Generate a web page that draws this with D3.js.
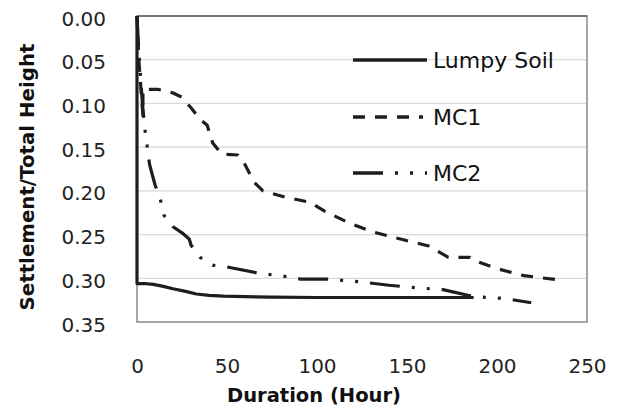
<!DOCTYPE html>
<html>
<head>
<meta charset="utf-8">
<script src="https://cdn.jsdelivr.net/npm/d3@7"></script>
<style>
  html, body { margin: 0; padding: 0; background: #fff; }
  svg { display: block; }
</style>
</head>
<body>
<svg id="chart" width="621" height="410"></svg>
<script>
// ---- data ----
const seriesNames = ["Lumpy Soil", "MC1", "MC2"];
const lumpyX = [0, 0, 4, 9, 14, 20, 27, 33, 40, 48, 60, 75, 100, 150, 187];
const lumpyY = [0, 0.306, 0.306, 0.307, 0.309, 0.312, 0.315, 0.318, 0.3195, 0.3205, 0.321, 0.3215, 0.322, 0.322, 0.322];
const mc1X = [0, 1, 3.3, 3.3, 12, 20, 25, 30, 35, 39, 42, 47, 56, 60, 65, 70, 82, 96, 104, 118, 131, 148, 162, 173, 185, 188, 200, 215, 235];
const mc1Y = [0, 0.05, 0.114, 0.084, 0.084, 0.088, 0.093, 0.105, 0.118, 0.125, 0.145, 0.158, 0.159, 0.17, 0.19, 0.2, 0.207, 0.213, 0.223, 0.237, 0.247, 0.256, 0.263, 0.276, 0.276, 0.28, 0.289, 0.297, 0.302];
const mc2X = [0, 1, 2, 3, 4.4, 5.6, 7, 10, 13, 15, 20, 25, 29, 30, 35, 42, 50, 67, 83, 91, 107, 124, 140, 156, 170, 187, 204, 219];
const mc2Y = [0, 0.04, 0.07, 0.10, 0.13, 0.148, 0.17, 0.193, 0.21, 0.228, 0.241, 0.248, 0.255, 0.262, 0.276, 0.285, 0.287, 0.294, 0.298, 0.301, 0.301, 0.304, 0.308, 0.311, 0.313, 0.321, 0.323, 0.328];
const xTicks = [0, 50, 100, 150, 200, 250];
const yTicks = [0, 0.05, 0.10, 0.15, 0.20, 0.25, 0.30, 0.35];
const xTitle = "Duration (Hour)";
const yTitle = "Settlement/Total Height";

// ---- layout ----
const svg = d3.select("#chart");
const L = 137, R = 587, T = 16, B = 322;
const x = d3.scaleLinear().domain([0, 250]).range([L, R]);
const y = d3.scaleLinear().domain([0, 0.35]).range([T, B]);
const font = "'DejaVu Sans', sans-serif";
const ink = "#1e1e1e";

// gridlines
svg.append("g").selectAll("line")
  .data(yTicks.filter(d => d > 0 && d < 0.35))
  .join("line")
  .attr("x1", L).attr("x2", R)
  .attr("y1", d => y(d)).attr("y2", d => y(d))
  .attr("stroke", "#d9d9d9").attr("stroke-width", 1.2);

// plot border
svg.append("rect")
  .attr("x", L).attr("y", T).attr("width", R - L).attr("height", B - T)
  .attr("fill", "none").attr("stroke", "#8a8a8a").attr("stroke-width", 1.5);
svg.append("line").attr("x1", L).attr("x2", R).attr("y1", T).attr("y2", T)
  .attr("stroke", "#666").attr("stroke-width", 1.5);

// axes
const yAxis = svg.append("g").attr("transform", `translate(${L},0)`)
  .call(d3.axisLeft(y).tickValues(yTicks).tickFormat(d3.format(".2f")).tickSize(0).tickPadding(31));
yAxis.select(".domain").remove();
yAxis.selectAll("text").attr("font-family", font).attr("font-size", 20).attr("fill", "#222").attr("dy", "0.45em");

const xAxis = svg.append("g").attr("transform", `translate(0,${B})`)
  .call(d3.axisBottom(x).tickValues(xTicks).tickFormat(d3.format("d")).tickSize(0).tickPadding(37));
xAxis.select(".domain").remove();
xAxis.selectAll("text").attr("font-family", font).attr("font-size", 20).attr("fill", "#222");

// titles
svg.append("text").attr("x", 314).attr("y", 402).attr("text-anchor", "middle")
  .attr("font-family", font).attr("font-weight", "bold").attr("font-size", 19.5).attr("fill", "#111")
  .text(xTitle);
svg.append("text").attr("transform", "translate(34,177) rotate(-90)").attr("text-anchor", "middle")
  .attr("font-family", font).attr("font-weight", "bold").attr("font-size", 19.8).attr("fill", "#111")
  .text(yTitle);

// lines
const styles = [
  { dash: null, w: 3.2 },
  { dash: "12,10", w: 3.2 },
  { dash: "30,12,3,12,3,12", w: 3.2 }
];
const series = [
  { name: seriesNames[0], pts: lumpyX.map((v, i) => [v, lumpyY[i]]) },
  { name: seriesNames[1], pts: mc1X.map((v, i) => [v, mc1Y[i]]) },
  { name: seriesNames[2], pts: mc2X.map((v, i) => [v, mc2Y[i]]) }
];
const line = d3.line().x(d => x(d[0])).y(d => y(d[1])).curve(d3.curveLinear);
series.forEach((s, i) => {
  svg.append("path").datum(s.pts)
    .attr("d", line)
    .attr("fill", "none").attr("stroke", ink).attr("stroke-width", styles[i].w)
    .attr("stroke-dasharray", styles[i].dash).attr("stroke-linejoin", "round");
});

// legend
const legY = [60, 117, 173];
series.forEach((s, i) => {
  svg.append("line").attr("x1", 353).attr("x2", i === 1 ? 423 : 427)
    .attr("y1", legY[i]).attr("y2", legY[i])
    .attr("stroke", ink).attr("stroke-width", 3.4).attr("stroke-dasharray", styles[i].dash);
  svg.append("text").attr("x", 433).attr("y", legY[i]).attr("dy", "0.36em")
    .attr("font-family", font).attr("font-size", 22).attr("fill", "#111")
    .text(s.name);
});
</script>
</body>
</html>
